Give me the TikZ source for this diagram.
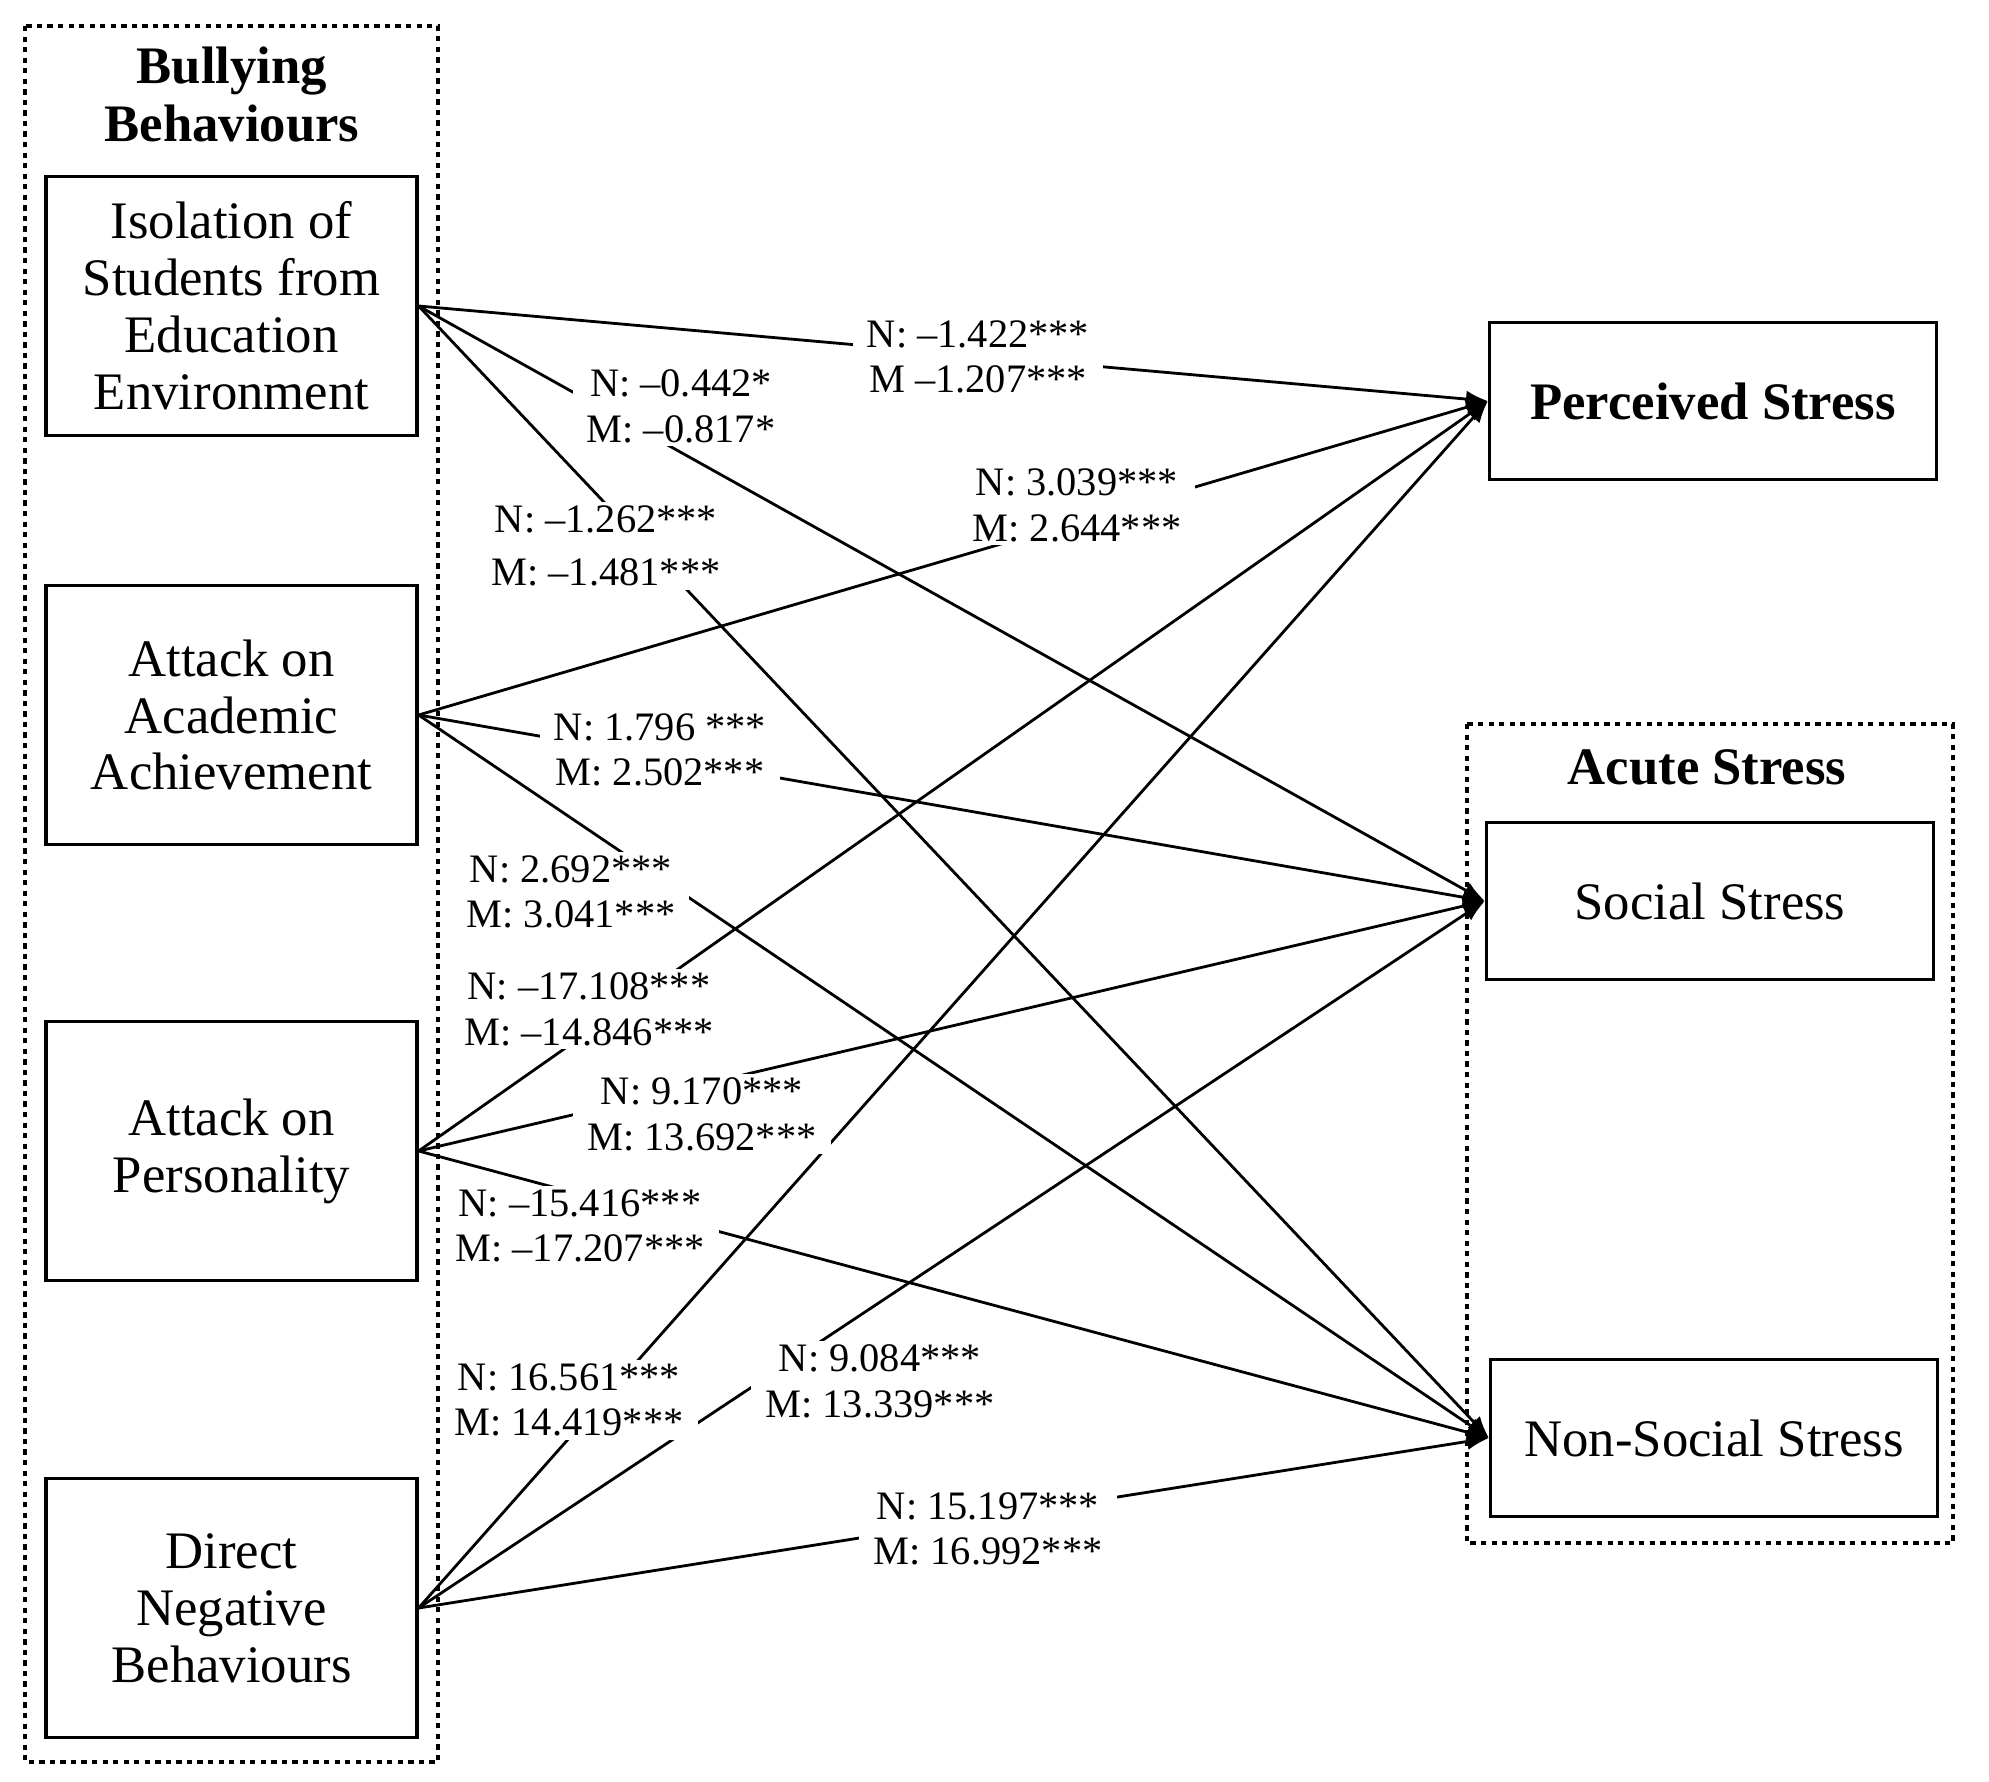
\documentclass[tikz,border=0pt]{standalone}
\usepackage{fontspec}
\setmainfont{Liberation Serif}
\usetikzlibrary{arrows.meta}

\begin{document}
\begin{tikzpicture}[
    box/.style={draw, line width=0.9pt, minimum width=3.71cm, minimum height=2.59cm,
      align=center, inner sep=2pt, font=\fontsize{15}{16.2}\selectfont},
    outbox/.style={draw, line width=0.9pt, minimum width=4.47cm, minimum height=1.57cm,
      font=\fontsize{15}{16.2}\selectfont},
    group/.style={draw, line width=1pt, dash pattern=on 1.5pt off 1.5pt},
    grouptitle/.style={align=center, font=\bfseries\fontsize{15}{16.5}\selectfont},
    lab/.style={fill=white, align=center, inner xsep=4pt, inner ysep=1pt,
      font=\fontsize{11.5}{13}\selectfont},
    arr/.style={line width=0.8pt, -{Latex[length=2.2mm,width=1.7mm]}}
  ]
  \useasboundingbox (0,0) rectangle (19.89,-17.81);

  % groups
  \draw[group] (0.25,-0.26) rectangle (4.38,-17.62);
  \draw[group] (14.67,-7.24) rectangle (19.53,-15.43);
  \node[grouptitle] (bb) at (2.32,-0.95) {Bullying\\Behaviours};
  \node[grouptitle] (as) at (17.07,-7.67) {Acute Stress};

  % bullying behaviours
  \node[box] (iso) at (2.315,-3.06) {Isolation of\\Students from\\Education\\Environment};
  \node[box] (acad) at (2.315,-7.15) {Attack on\\Academic\\Achievement};
  \node[box] (pers) at (2.315,-11.51) {Attack on\\Personality};
  \node[box] (dnb) at (2.315,-16.08) {Direct\\Negative\\Behaviours};

  % stress
  \node[outbox, font=\bfseries\fontsize{15}{16.2}\selectfont] (per) at (17.13,-4.01) {Perceived Stress};
  \node[outbox] (soc) at (17.10,-9.01) {Social Stress};
  \node[outbox] (nss) at (17.14,-14.38) {Non-Social Stress};

  \foreach \s in {iso,acad,pers,dnb}
  {\foreach \t in {per,soc,nss}
    {\draw[arr] (\s.east) -- (\t.west);}}

  % coefficients
  \node[lab] (isoper) at (9.78,-3.57) {N: –1.422***\\M –1.207***};
  \node[lab] (isosoc) at (6.81,-4.06) {N: –0.442*\\M: –0.817*};
  \node[lab] (isonss) at (6.06,-5.46) {N: –1.262***\\[2pt]M: –1.481***};
  \node[lab] (acadper) at (10.77,-5.05) {N: 3.039***\\M: 2.644***};
  \node[lab] (acadsoc) at (6.60,-7.50) {N: 1.796 ***\\M: 2.502***};
  \node[lab] (acadnss) at (5.71,-8.92) {N: 2.692***\\M: 3.041***};
  \node[lab] (persper) at (5.89,-10.09) {N: –17.108***\\M: –14.846***};
  \node[lab] (perssoc) at (7.02,-11.14) {N: 9.170***\\M: 13.692***};
  \node[lab] (persnss) at (5.80,-12.26) {N: –15.416***\\M: –17.207***};
  \node[lab] (dnbper) at (5.69,-14.00) {N: 16.561***\\M: 14.419***};
  \node[lab] (dnbsoc) at (8.80,-13.81) {N: 9.084***\\M: 13.339***};
  \node[lab] (dnbnss) at (9.88,-15.29) {N: 15.197***\\M: 16.992***};
\end{tikzpicture}
\end{document}
